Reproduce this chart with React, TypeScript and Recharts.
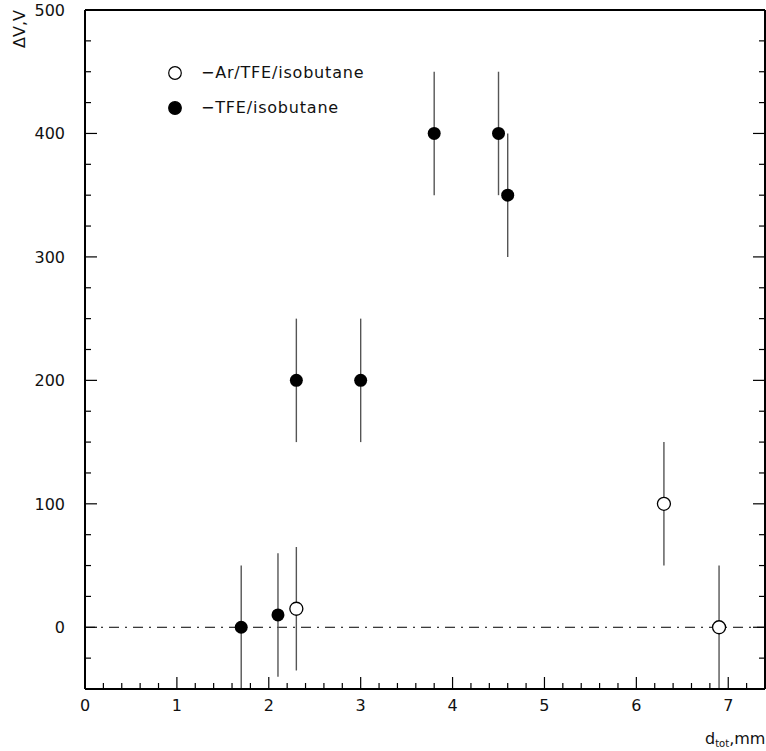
import React from 'react'
import {
  ScatterChart, Scatter, XAxis, YAxis, ErrorBar, ReferenceLine, Legend,
} from 'recharts'

// Ar/TFE/isobutane mixture (open circles)
const arX = [2.3, 6.3, 6.9]
const arDV = [15, 100, 0]
const arErr = [50, 50, 50]

// TFE/isobutane mixture (filled circles)
const tfeX = [1.7, 2.1, 2.3, 3.0, 3.8, 4.5, 4.6]
const tfeDV = [0, 10, 200, 200, 400, 400, 350]
const tfeErr = [50, 50, 50, 50, 50, 50, 50]

const xLabels = [0, 1, 2, 3, 4, 5, 6, 7]
const yLabels = [0, 100, 200, 300, 400, 500]

const X_DOMAIN: [number, number] = [0, 7.4]
const Y_DOMAIN: [number, number] = [-50, 500]

const FONT = '"DejaVu Sans", sans-serif'

// minor tick positions: every 0.2 on x, every 25 on y
const xTicks: number[] = []
for (let i = 0; i <= 36; i++) xTicks.push(Math.round(i * 2) / 10)
const yTicks: number[] = []
for (let v = -50; v <= 500; v += 25) yTicks.push(v)

const arData = arX.map((x, i) => ({ x, y: arDV[i], err: arErr[i] }))
const tfeData = tfeX.map((x, i) => ({ x, y: tfeDV[i], err: tfeErr[i] }))

const near = (v: number, list: number[]) => list.some((l) => Math.abs(l - v) < 1e-6)

const BottomTick = (p: any) => {
  const major = near(p.payload.value, xLabels)
  return (
    <g>
      <line x1={p.x} x2={p.x} y1={p.y} y2={p.y - (major ? 12 : 6)} stroke="#000" strokeWidth={1.2} />
      {major && (
        <text x={p.x} y={p.y + 22} textAnchor="middle" fontSize={16} fontFamily={FONT} fill="#111">
          {p.payload.value}
        </text>
      )}
    </g>
  )
}

const TopTick = (p: any) => {
  const major = near(p.payload.value, xLabels)
  return <line x1={p.x} x2={p.x} y1={p.y} y2={p.y + (major ? 12 : 6)} stroke="#000" strokeWidth={1.2} />
}

const LeftTick = (p: any) => {
  const major = near(p.payload.value, yLabels)
  if (p.payload.value === -50) return <g />
  return (
    <g>
      <line x1={p.x} x2={p.x + (major ? 12 : 6)} y1={p.y} y2={p.y} stroke="#000" strokeWidth={1.2} />
      {major && (
        <text x={p.x - 20} y={p.y + 6} textAnchor="end" fontSize={16} fontFamily={FONT} fill="#111">
          {p.payload.value}
        </text>
      )}
    </g>
  )
}

const RightTick = (p: any) => {
  const major = near(p.payload.value, yLabels)
  if (p.payload.value === -50) return <g />
  return <line x1={p.x} x2={p.x - (major ? 12 : 6)} y1={p.y} y2={p.y} stroke="#000" strokeWidth={1.2} />
}

const OpenDot = (p: any) => <circle cx={p.cx} cy={p.cy} r={6.5} fill="#fff" stroke="#000" strokeWidth={1.3} />
const FilledDot = (p: any) => <circle cx={p.cx} cy={p.cy} r={6.5} fill="#000" />

const LegendBox = () => (
  <div style={{ fontFamily: FONT, fontSize: 16, letterSpacing: 0.8, color: '#111' }}>
    {[
      { label: '−Ar/TFE/isobutane', open: true },
      { label: '−TFE/isobutane', open: false },
    ].map((row) => (
      <div key={row.label} style={{ display: 'flex', alignItems: 'center', height: 35 }}>
        <svg width={16} height={16} style={{ flex: 'none' }}>
          <circle cx={8} cy={8} r={6.3} fill={row.open ? '#fff' : '#000'} stroke="#000" strokeWidth={1.2} />
        </svg>
        <span style={{ marginLeft: 18 }}>{row.label}</span>
      </div>
    ))}
  </div>
)

export default function App() {
  return (
    <div style={{ position: 'absolute', left: 0, top: 0, width: 766, height: 751, background: '#fff' }}>
      <ScatterChart width={766} height={751} margin={{ top: 9, right: 0, bottom: 0, left: 0 }}>
        <XAxis
          xAxisId={0}
          type="number"
          dataKey="x"
          domain={X_DOMAIN}
          allowDataOverflow
          ticks={xTicks}
          interval={0}
          height={62}
          tickSize={0}
          tickMargin={0}
          tick={<BottomTick />}
          axisLine={{ stroke: '#000', strokeWidth: 2 }}
          label={{
            content: () => (
              <text x={705} y={744} fontSize={16} fontFamily={FONT} fill="#111">
                d<tspan fontSize={10} dy={3}>tot</tspan>
                <tspan dy={-3}>,mm</tspan>
              </text>
            ),
          }}
        />
        <XAxis
          xAxisId="top"
          orientation="top"
          type="number"
          domain={X_DOMAIN}
          allowDataOverflow
          ticks={xTicks}
          interval={0}
          height={1}
          tickSize={0}
          tickMargin={0}
          tick={<TopTick />}
          axisLine={{ stroke: '#000', strokeWidth: 2 }}
        />
        <YAxis
          yAxisId={0}
          type="number"
          dataKey="y"
          domain={Y_DOMAIN}
          allowDataOverflow
          ticks={yTicks}
          interval={0}
          width={85}
          tickSize={0}
          tickMargin={0}
          tick={<LeftTick />}
          axisLine={{ stroke: '#000', strokeWidth: 2 }}
          label={{
            content: () => (
              <text
                x={25}
                y={10}
                transform="rotate(-90 25 10)"
                textAnchor="end"
                fontSize={16}
                fontFamily={FONT}
                fill="#111"
              >
                ΔV,V
              </text>
            ),
          }}
        />
        <YAxis
          yAxisId="right"
          orientation="right"
          type="number"
          domain={Y_DOMAIN}
          allowDataOverflow
          ticks={yTicks}
          interval={0}
          width={1}
          tickSize={0}
          tickMargin={0}
          tick={<RightTick />}
          axisLine={{ stroke: '#000', strokeWidth: 2 }}
        />
        <ReferenceLine y={0} stroke="#000" strokeWidth={1} strokeDasharray="10 6 2 6" />
        <Scatter name="Ar/TFE/isobutane" data={arData} shape={<OpenDot />} isAnimationActive={false}>
          <ErrorBar dataKey="err" direction="y" width={0} stroke="#555" strokeWidth={1.4} />
        </Scatter>
        <Scatter name="TFE/isobutane" data={tfeData} shape={<FilledDot />} isAnimationActive={false}>
          <ErrorBar dataKey="err" direction="y" width={0} stroke="#555" strokeWidth={1.4} />
        </Scatter>
        <Legend
          layout="vertical"
          align="center"
          verticalAlign="middle"
          content={<LegendBox />}
          wrapperStyle={{ left: 167, top: 55, width: 260, height: 72 }}
        />
      </ScatterChart>
    </div>
  )
}
